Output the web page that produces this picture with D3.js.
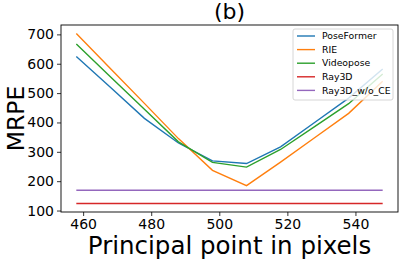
<!DOCTYPE html>
<html>
<head>
<meta charset="utf-8">
<script src="https://cdn.jsdelivr.net/npm/d3@7"></script>
<style>
  body { margin: 0; background: #fff; }
  text { font-family: "DejaVu Sans", sans-serif; fill: #000; }
</style>
</head>
<body>
<div id="chart"></div>
<script>
/* MRPE vs principal point (panel b) */

const xs = [458, 468, 478, 488, 498, 508, 518, 528, 538, 548];
const seriesNames = ["PoseFormer", "RIE", "Videopose", "Ray3D", "Ray3D_w/o_CE"];
const poseFormer = [625, 520, 414, 330, 269, 260, 317, 400, 483, 582];
const rie        = [703, 584, 465, 345, 237, 185, 265, 348, 431, 540];
const videopose  = [667, 556, 445, 334, 264, 248, 308, 386, 464, 565];
const ray3d      = [124, 124, 124, 124, 124, 124, 124, 124, 124, 124];
const ray3dNoCE  = [169, 169, 169, 169, 169, 169, 169, 169, 169, 169];
const xTicks = [460, 480, 500, 520, 540];
const yTicks = [100, 200, 300, 400, 500, 600, 700];
const colors = ["#1f77b4", "#ff7f0e", "#2ca02c", "#d62728", "#9467bd"];

const allValues = [poseFormer, rie, videopose, ray3d, ray3dNoCE];
const series = seriesNames.map((name, i) => ({
    name: name,
    color: colors[i],
    values: xs.map((x, j) => ({ x: x, y: allValues[i][j] }))
}));

const width = 399,
      height = 260,
      margin = ({ top: 25, right: 1, bottom: 48, left: 61 });

let svg = d3.select("#chart")
    .append("svg")
    .attr("width", width)
    .attr("height", height);

// matplotlib style 5% margins around the data
let xPad = (d3.max(xs) - d3.min(xs)) * 0.05;
let flat = allValues.flat();
let yPad = (d3.max(flat) - d3.min(flat)) * 0.05;

let x = d3.scaleLinear()
    .domain([d3.min(xs) - xPad, d3.max(xs) + xPad])
    .range([margin.left, width - margin.right]);

let y = d3.scaleLinear()
    .domain([d3.min(flat) - yPad, d3.max(flat) + yPad])
    .range([height - margin.bottom, margin.top]);

let line = d3.line()
    .x(d => x(d.x))
    .y(d => y(d.y));

svg.append("g")
    .selectAll("path")
    .data(series)
    .join("path")
    .attr("fill", "none")
    .attr("stroke", d => d.color)
    .attr("stroke-width", 1.4)
    .attr("d", d => line(d.values));

// axes
let xAxis = svg.append("g")
    .attr("transform", `translate(0,${height - margin.bottom})`)
    .call(d3.axisBottom(x).tickValues(xTicks).tickSize(4).tickPadding(3).tickFormat(d3.format("d")));

let yAxis = svg.append("g")
    .attr("transform", `translate(${margin.left},0)`)
    .call(d3.axisLeft(y).tickValues(yTicks).tickSize(4).tickPadding(3).tickFormat(d3.format("d")));

for (let ax of [xAxis, yAxis]) {
    ax.select(".domain").remove();
    ax.selectAll("line").attr("stroke", "#000").attr("stroke-width", 0.8);
    ax.selectAll("text")
        .style("font-family", "DejaVu Sans")
        .style("font-size", "14px")
        .attr("fill", "#000");
}

// frame
svg.append("rect")
    .attr("x", margin.left)
    .attr("y", margin.top)
    .attr("width", width - margin.right - margin.left)
    .attr("height", height - margin.bottom - margin.top)
    .attr("fill", "none")
    .attr("stroke", "#000")
    .attr("stroke-width", 0.9);

// title and axis labels
svg.append("text")
    .text("(b)")
    .attr("x", (margin.left + width - margin.right) / 2)
    .attr("y", 19)
    .attr("text-anchor", "middle")
    .style("font-size", "22px");

svg.append("text")
    .text("Principal point in pixels")
    .attr("x", (margin.left + width - margin.right) / 2)
    .attr("y", 254)
    .attr("text-anchor", "middle")
    .style("font-size", "24.5px");

svg.append("text")
    .text("MRPE")
    .attr("transform", `translate(24,${(margin.top + height - margin.bottom) / 2}) rotate(-90)`)
    .attr("text-anchor", "middle")
    .style("font-size", "23.5px");

// legend
let legend = svg.append("g")
    .attr("transform", "translate(293,29)");

legend.append("rect")
    .attr("width", 100)
    .attr("height", 71)
    .attr("rx", 2)
    .attr("fill", "#fff")
    .attr("fill-opacity", 0.8)
    .attr("stroke", "#ccc")
    .attr("stroke-width", 0.8);

let item = legend.selectAll(".item")
    .data(series)
    .join("g")
    .attr("class", "item")
    .attr("transform", (d, i) => `translate(0,${7 + i * 13.6})`);

item.append("line")
    .attr("x1", 4)
    .attr("x2", 22)
    .attr("stroke", d => d.color)
    .attr("stroke-width", 1.4);

item.append("text")
    .text(d => d.name)
    .attr("x", 29)
    .attr("dy", "0.35em")
    .style("font-size", "9.3px");
</script>
</body>
</html>
